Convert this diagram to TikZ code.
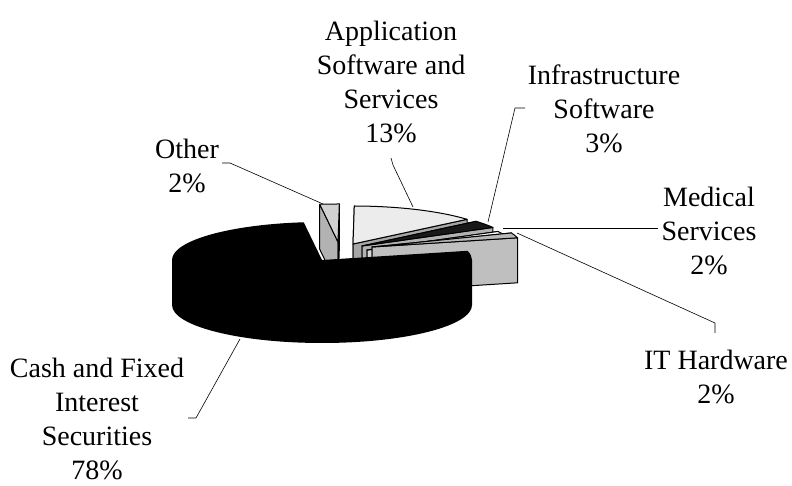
\documentclass[tikz,border=0pt]{standalone}
\usepackage{fontspec}
\setmainfont{Liberation Serif}
\usepackage{tikz}
\usetikzlibrary{calc}

% one exploded wedge: start angle, end angle, shift x, shift y, top fill, face fill
\newcommand{\pieslice}[6]{%
  \begin{scope}[shift={(#3,#4)}]
    \filldraw[rim, fill=#6] (0,0) -- (#2:150pt and 38pt) -- ++(0,-45) -- (0,-45) -- cycle;
    \filldraw[rim, fill=#6] (0,0) -- (#1:150pt and 38pt) -- ++(0,-45) -- (0,-45) -- cycle;
    \filldraw[rim, fill=#5] (0,0) -- (#1:150pt and 38pt)
      arc[start angle=#1, end angle=#2, x radius=150pt, y radius=38pt] -- cycle;
  \end{scope}}

\begin{document}
\begin{tikzpicture}[
    x=1pt, y=1pt,
    rim/.style={draw=black, line width=1pt, line join=round},
    lbl/.style={align=center, inner sep=0pt, font=\fontsize{28}{34}\selectfont},
    leader/.style={draw=black, line width=0.6pt}
  ]
    \useasboundingbox (0,0) rectangle (792,486);

    % small slices, back to front
    \pieslice{89.5}{97}{338}{244}{gray!35}{gray!60}
    \pieslice{40.5}{89.5}{353}{242}{gray!15}{gray!70}
    \pieslice{29.2}{40.5}{362}{240}{black!90}{gray!60}
    \pieslice{21.7}{29.2}{367}{236}{white}{gray!30}
    \pieslice{14}{21.7}{372}{239}{gray!55}{gray!50}

    % big slice
    \fill[black] (322,226) -- ++(97:150pt and 38pt)
      arc[start angle=97, end angle=180, x radius=150pt, y radius=38pt] -- ++(0,-45)
      arc[start angle=180, end angle=360, x radius=150pt, y radius=38pt] -- ++(0,45)
      arc[start angle=0, end angle=14, x radius=150pt, y radius=38pt] -- cycle;

    % labels
    \node[lbl] (app) at (391,404) {Application\\Software and\\Services\\13\%};
    \node[lbl] (other) at (187,320) {Other\\2\%};
    \node[lbl] (infra) at (604,377) {Infrastructure\\Software\\3\%};
    \node[lbl] (medical) at (709,255) {Medical\\Services\\2\%};
    \node[lbl] (ithw) at (716,109) {IT Hardware\\2\%};
    \node[lbl] (cash) at (97,67) {Cash and Fixed\\Interest\\Securities\\78\%};

    % leader lines
    \coordinate (cashA) at (188,68);
    \coordinate (cashB) at (240,147);
    \coordinate (otherA) at (222,323);
    \coordinate (otherB) at (323,282);
    \coordinate (appA) at (391,328);
    \coordinate (appB) at (413,279);
    \coordinate (infraA) at (525,378);
    \coordinate (infraB) at (488,264);
    \coordinate (medA) at (658,258);
    \coordinate (medB) at (503,258);
    \coordinate (itA) at (715,153);
    \coordinate (itB) at (517,253);
    \draw[leader] (cashA) -- ++(8,0) -- (cashB);
    \draw[leader] (otherA) -- ++(8,0) -- (otherB);
    \draw[leader] (appA) -- ++(2,-7) -- (appB);
    \draw[leader] (infraA) -- ++(-10,0) -- (infraB);
    \draw[leader] (medA) -- (medB);
    \draw[leader] (itA) -- ++(0,10) -- (itB);
\end{tikzpicture}
\end{document}
